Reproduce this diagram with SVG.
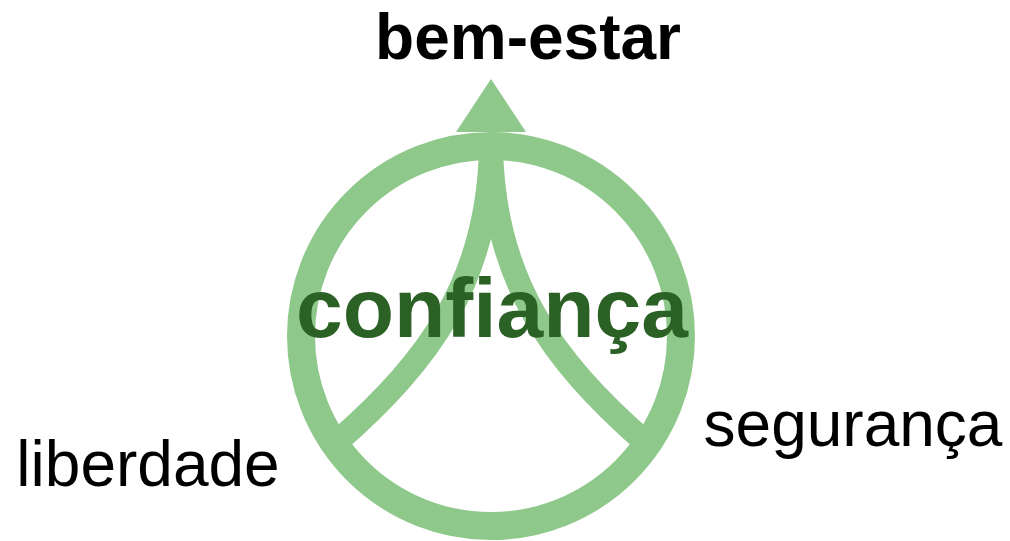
<svg xmlns="http://www.w3.org/2000/svg" width="1010" height="541" viewBox="0 0 1010 541">
  <style>
    .shape { fill: none; stroke: #8fc88b; }
    .label { font-family: "Liberation Sans", Arial, sans-serif; fill: #000000; font-size: 64px; text-anchor: middle; }
    .center { font-family: "Liberation Sans", Arial, sans-serif; fill: #2b6125; font-size: 84px; font-weight: bold; text-anchor: middle; }
  </style>
  <rect width="1010" height="541" fill="#ffffff"/>
  <g id="ring">
    <circle class="shape" cx="491" cy="336" r="190" stroke-width="28"/>
  </g>
  <g id="connectors">
    <path class="shape" stroke-width="24" d="M491,146 C489,280 430,360 338,441"/>
    <path class="shape" stroke-width="24" d="M491,146 C493,280 552,360 644,441"/>
    <polygon fill="#8fc88b" points="491,79 456,132 526,132"/>
  </g>
  <g id="node-confianca">
    <text class="center" x="492" y="337">confiança</text>
  </g>
  <g id="node-bem-estar">
    <text class="label" x="528" y="59" font-weight="bold">bem-estar</text>
  </g>
  <g id="node-liberdade">
    <text class="label" x="148" y="486">liberdade</text>
  </g>
  <g id="node-seguranca">
    <text class="label" x="853" y="446">segurança</text>
  </g>
</svg>
